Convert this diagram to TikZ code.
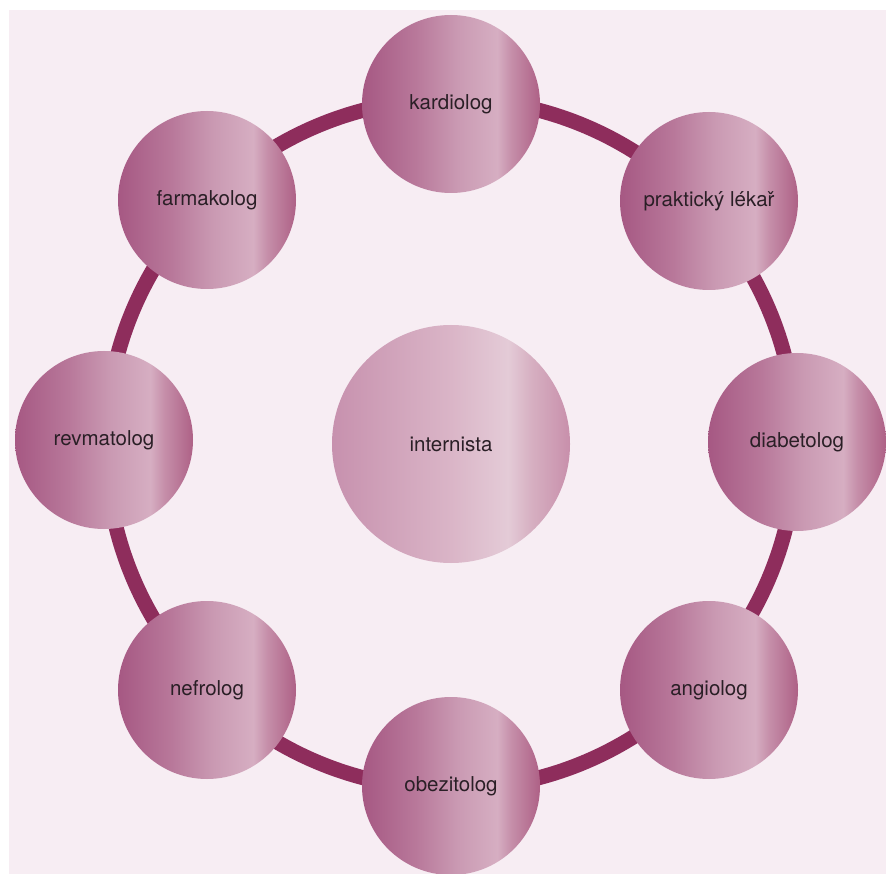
\documentclass[tikz,border=0pt]{standalone}
\usepackage{fontspec}
\setmainfont{TeX Gyre Heros}
\definecolor{bgpink}{HTML}{F7EDF3}
\definecolor{ringred}{HTML}{8E2D5C}
\definecolor{labeltext}{HTML}{2A1F26}
\definecolor{spA}{HTML}{A65883}
\definecolor{spB}{HTML}{B8789A}
\definecolor{spC}{HTML}{CA9AB3}
\definecolor{spD}{HTML}{D6AEC2}
\definecolor{spE}{HTML}{C58EA9}
\definecolor{spF}{HTML}{AE6186}
\definecolor{inA}{HTML}{C791AE}
\definecolor{inB}{HTML}{DAB5C7}
\definecolor{inC}{HTML}{E4CBD7}
\definecolor{inD}{HTML}{D6AFC1}
\definecolor{inE}{HTML}{C88FAB}
\pgfdeclarehorizontalshading{specshade}{100bp}{color(0bp)=(spA); color(25bp)=(spA);
  color(40bp)=(spB); color(52bp)=(spC); color(63bp)=(spD); color(67bp)=(spE);
  color(75bp)=(spF); color(100bp)=(spF)}
\pgfdeclarehorizontalshading{centershade}{100bp}{color(0bp)=(inA); color(25bp)=(inA);
  color(50bp)=(inB); color(62bp)=(inC); color(67bp)=(inD);
  color(75bp)=(inE); color(100bp)=(inE)}
\tikzset{
  specialist/.style={circle,minimum size=178pt,inner sep=0pt,shading=specshade,
    text=labeltext,font=\fontsize{20.5}{24}\selectfont},
  centre/.style={specialist,minimum size=238pt,shading=centershade},
  ring/.style={ringred,line width=15pt}
}
\begin{document}
\begin{tikzpicture}[x=1pt,y=-1pt]
    \useasboundingbox (0,0) rectangle (886,874);
    \fill[bgpink] (9,10) rectangle (886,874);
    \coordinate (mid) at (451,444);
    \draw[ring] (mid) circle [radius=345];
    \node[centre] (internista) at (mid) {internista};
    \node[specialist] (kardiolog) at (451,104) {kardiolog};
    \node[specialist] (praktik) at (709,201) {praktický lékař};
    \node[specialist] (diabetolog) at (797,442) {diabetolog};
    \node[specialist] (angiolog) at (709,690) {angiolog};
    \node[specialist] (obezitolog) at (451,786) {obezitolog};
    \node[specialist] (nefrolog) at (207,690) {nefrolog};
    \node[specialist] (revmatolog) at (104,440) {revmatolog};
    \node[specialist] (farmakolog) at (207,200) {farmakolog};
\end{tikzpicture}
\end{document}
